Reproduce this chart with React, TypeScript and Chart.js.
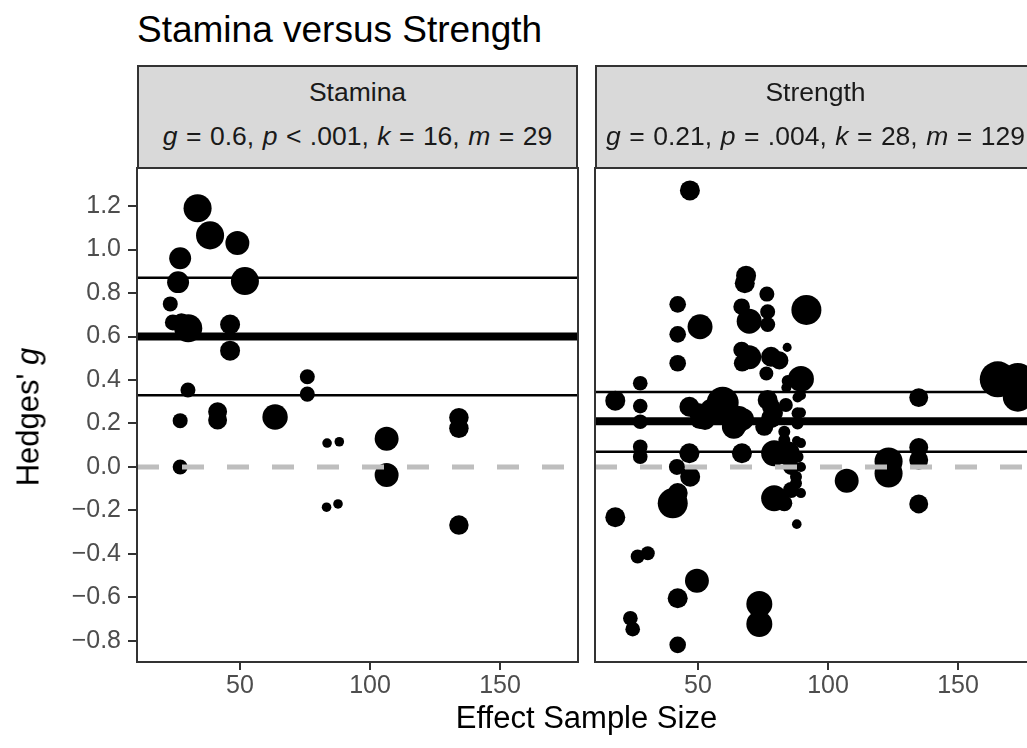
import React, { useEffect, useRef } from 'react';
import { Chart, registerables } from 'chart.js';

Chart.register(...registerables);

const FONT = '"Liberation Sans", Arial, Helvetica, sans-serif';

// ---------- data ----------
const plotTitle = 'Stamina versus Strength';
const xAxisTitle = 'Effect Sample Size';
const panelNames = ['Stamina', 'Strength'];
const statG = ['0.6', '0.21'];
const statP = ['< .001', '= .004'];
const statK = [16, 28];
const statM = [29, 129];
const estimate = [0.6, 0.21];
const ciLower = [0.33, 0.07];
const ciUpper = [0.87, 0.345];
const nullValue = 0;

const xTicks = [50, 100, 150];
const yTicks = [-0.8, -0.6, -0.4, -0.2, 0, 0.2, 0.4, 0.6, 0.8, 1.0, 1.2];
const xRange = [10.4, 180];
const yRange = [-0.897, 1.375];

// Stamina panel: effect sample size, Hedges' g, weight
const staminaN = [33.7, 38.5, 49, 27, 51.9, 26.2, 23.2, 24.2, 27.5, 30.1, 46.2, 46.2, 30, 27, 41.4, 41.4, 63.5, 75.9, 75.9, 83.5, 88.2, 27, 83.3, 87.7, 106.4, 106.4, 134.2, 134.2, 134.2];
const staminaG = [1.19, 1.065, 1.03, 0.96, 0.855, 0.85, 0.75, 0.665, 0.665, 0.638, 0.655, 0.535, 0.354, 0.213, 0.254, 0.216, 0.23, 0.415, 0.335, 0.11, 0.116, 0.0, -0.185, -0.17, 0.13, -0.037, 0.227, 0.178, -0.267];
const staminaW = [77, 77, 56, 47, 77, 47, 22, 25, 32, 77, 39, 39, 22, 22, 35, 35, 63, 22, 22, 9, 9, 22, 9, 9, 56, 56, 37, 37, 37];

// Strength panel
const strengthN = [46.9, 68.5, 68.0, 76.5, 66.8, 69.7, 76.8, 76.8, 91.7, 42.2, 42.2, 50.8, 42.2, 66.8, 69.7, 67.0, 78.1, 81.3, 84.3, 76.3, 89.6, 84.5, 84.0, 27.8, 18.2, 27.8, 27.8, 27.8, 27.8, 46.7, 50.5, 59.5, 55.0, 62.7, 64.6, 67.3, 52.7, 61.4, 76.8, 78.1, 78.1, 75.5, 88.3, 88.3, 88.3, 83.8, 79.2, 83.2, 83.2, 88.0, 66.9, 79.3, 84.5, 88.3, 85.8, 87.7, 87.7, 85.8, 79.3, 83.2, 88.0, 46.7, 41.9, 47.0, 42.2, 40.3, 18.2, 26.8, 30.7, 49.6, 42.2, 73.6, 73.6, 24.0, 24.9, 42.2, 134.9, 165.3, 173.0, 173.0, 134.9, 134.9, 134.9, 123.3, 123.3, 107.2, 89.6, 89.6, 89.6, 89.6, 89.6, 50.8, 63.8, 65.8];
const strengthG = [1.272, 0.88, 0.845, 0.795, 0.737, 0.67, 0.714, 0.655, 0.722, 0.748, 0.61, 0.645, 0.477, 0.538, 0.505, 0.477, 0.507, 0.49, 0.55, 0.43, 0.405, 0.395, 0.365, 0.385, 0.305, 0.28, 0.208, 0.093, 0.047, 0.277, 0.247, 0.295, 0.262, 0.216, 0.215, 0.22, 0.216, 0.277, 0.308, 0.277, 0.224, 0.185, 0.32, 0.247, 0.2, 0.285, 0.248, 0.162, 0.124, 0.12, 0.063, 0.063, 0.063, 0.047, 0.0, -0.045, -0.075, -0.106, -0.144, -0.167, -0.263, 0.063, 0.0, -0.045, -0.12, -0.167, -0.231, -0.412, -0.397, -0.523, -0.604, -0.63, -0.722, -0.696, -0.746, -0.818, 0.319, 0.403, 0.40, 0.323, 0.09, 0.032, -0.17, 0.025, -0.03, -0.063, 0.33, 0.25, 0.11, 0.0, -0.12, 0.22, 0.185, 0.23];
const strengthW = [39, 39, 39, 22, 27, 61, 22, 22, 88, 27, 27, 61, 27, 27, 56, 27, 39, 32, 8, 19, 66, 14, 10, 21, 39, 21, 21, 21, 21, 39, 39, 100, 47, 39, 77, 47, 39, 32, 39, 32, 39, 32, 10, 14, 14, 19, 32, 14, 14, 9, 39, 66, 56, 14, 25, 14, 14, 25, 66, 25, 9, 39, 25, 39, 39, 88, 39, 19, 19, 56, 39, 66, 66, 21, 21, 27, 35, 127, 113, 88, 35, 35, 35, 77, 77, 56, 10, 10, 10, 10, 10, 39, 56, 47];

const panelN = [staminaN, strengthN];
const panelG = [staminaG, strengthG];
const panelW = [staminaW, strengthW];

// ---------- layout ----------
const PANEL_LEFT = [137, 595];
const PANEL_WIDTH = 441;
const PANEL_TOP = 168;
const STRIP_TOP = 65;
const CANVAS_TOP = 160;
const CANVAS_H = 588;
const X_AXIS_H = 86;

const radiusOf = (w: number) => 1.6 * Math.sqrt(w);
const fmtY = (v: number) => (v < 0 ? '\u2212' + Math.abs(v).toFixed(1) : v.toFixed(1));

const panelBorder = {
  id: 'panelBorder',
  afterDraw(chart: any) {
    const { ctx, chartArea: a } = chart;
    ctx.save();
    ctx.strokeStyle = '#333333';
    ctx.lineWidth = 2;
    ctx.strokeRect(a.left, a.top, a.right - a.left, a.bottom - a.top);
    ctx.restore();
  },
};

function hLine(y: number) {
  return [
    { x: xRange[0], y },
    { x: xRange[1], y },
  ];
}

function makeConfig(i: number): any {
  const showY = i === 0;
  const pts = panelN[i].map((n, k) => ({ x: n, y: panelG[i][k] }));
  return {
    type: 'scatter',
    data: {
      datasets: [
        {
          data: hLine(nullValue),
          showLine: true,
          pointRadius: 0,
          borderColor: '#bebebe',
          borderWidth: 5,
          borderDash: [22, 23],
          borderCapStyle: 'butt',
          order: 0,
        },
        {
          data: hLine(estimate[i]),
          showLine: true,
          pointRadius: 0,
          borderColor: '#000000',
          borderWidth: 8,
          order: 1,
        },
        {
          data: hLine(ciUpper[i]),
          showLine: true,
          pointRadius: 0,
          borderColor: '#000000',
          borderWidth: 2.5,
          order: 1,
        },
        {
          data: hLine(ciLower[i]),
          showLine: true,
          pointRadius: 0,
          borderColor: '#000000',
          borderWidth: 2.5,
          order: 1,
        },
        {
          data: pts,
          pointRadius: panelW[i].map(radiusOf),
          pointHoverRadius: panelW[i].map(radiusOf),
          pointBackgroundColor: '#000000',
          pointBorderWidth: 0,
          borderWidth: 0,
          order: 2,
        },
      ],
    },
    options: {
      responsive: false,
      animation: false,
      events: [],
      layout: {
        autoPadding: false,
        padding: { top: PANEL_TOP - CANVAS_TOP, right: showY ? 12 : 10, left: showY ? 0 : 10, bottom: 0 },
      },
      plugins: { legend: { display: false }, tooltip: { enabled: false } },
      scales: {
        x: {
          type: 'linear',
          min: xRange[0],
          max: xRange[1],
          afterBuildTicks: (s: any) => {
            s.ticks = xTicks.map((v) => ({ value: v }));
          },
          afterFit: (s: any) => {
            s.height = X_AXIS_H;
            s.paddingLeft = 0;
            s.paddingRight = 0;
            s.paddingTop = 0;
            s.paddingBottom = 0;
          },
          border: { display: false },
          grid: { drawOnChartArea: false, drawTicks: true, tickLength: 8, color: '#333333', lineWidth: 2 },
          ticks: {
            font: { family: FONT, size: 25 },
            color: '#4d4d4d',
            padding: 1,
            maxRotation: 0,
            autoSkip: false,
            callback: (v: number) => String(v),
          },
        },
        y: {
          type: 'linear',
          display: showY,
          min: yRange[0],
          max: yRange[1],
          afterBuildTicks: (s: any) => {
            s.ticks = yTicks.map((v) => ({ value: v }));
          },
          afterFit: (s: any) => {
            s.width = showY ? PANEL_LEFT[0] : 0;
            s.paddingTop = 0;
            s.paddingBottom = 0;
            s.paddingLeft = 0;
            s.paddingRight = 0;
          },
          border: { display: false },
          grid: { drawOnChartArea: false, drawTicks: true, tickLength: 9, color: '#333333', lineWidth: 2 },
          ticks: {
            font: { family: FONT, size: 25 },
            color: '#4d4d4d',
            padding: 7,
            autoSkip: false,
            callback: (v: number) => fmtY(v),
          },
        },
      },
    },
    plugins: [panelBorder],
  };
}

function Panel({ i }: { i: number }) {
  const ref = useRef<HTMLCanvasElement | null>(null);
  useEffect(() => {
    if (!ref.current) return;
    const chart = new Chart(ref.current, makeConfig(i));
    return () => chart.destroy();
  }, [i]);
  const left = i === 0 ? 0 : PANEL_LEFT[1] - 10;
  const width = i === 0 ? PANEL_LEFT[0] + PANEL_WIDTH + 12 : PANEL_WIDTH + 20;
  return (
    <canvas
      ref={ref}
      width={width}
      height={CANVAS_H}
      style={{ position: 'absolute', left, top: CANVAS_TOP, width, height: CANVAS_H }}
    />
  );
}

function Strip({ i }: { i: number }) {
  const L = PANEL_LEFT[i];
  const txt: React.CSSProperties = {
    position: 'absolute',
    left: L,
    width: PANEL_WIDTH,
    textAlign: 'center',
    fontSize: 26.5,
    lineHeight: '26.5px',
    color: '#1a1a1a',
    whiteSpace: 'nowrap',
  };
  return (
    <>
      <div
        style={{
          position: 'absolute',
          left: L,
          top: STRIP_TOP,
          width: PANEL_WIDTH,
          height: PANEL_TOP - STRIP_TOP + 1,
          background: '#d9d9d9',
          border: '2px solid #333333',
          boxSizing: 'border-box',
        }}
      />
      <div style={{ ...txt, top: 79 }}>{panelNames[i]}</div>
      <div style={{ ...txt, top: 123, wordSpacing: '1.1px' }}>
        <i>g</i> = {statG[i]}, <i>p</i> {statP[i]}, <i>k</i> = {statK[i]}, <i>m</i> = {statM[i]}
      </div>
    </>
  );
}

export default function App() {
  return (
    <div
      style={{
        position: 'absolute',
        left: 0,
        top: 0,
        width: 1027,
        height: 748,
        overflow: 'hidden',
        background: '#ffffff',
        fontFamily: FONT,
      }}
    >
      <Panel i={0} />
      <Panel i={1} />
      <Strip i={0} />
      <Strip i={1} />
      <div
        style={{
          position: 'absolute',
          left: 137,
          top: 11,
          fontSize: 37,
          lineHeight: '37px',
          color: '#000000',
          whiteSpace: 'nowrap',
        }}
      >
        {plotTitle}
      </div>
      <div
        style={{
          position: 'absolute',
          left: PANEL_LEFT[0],
          width: PANEL_LEFT[1] + PANEL_WIDTH - PANEL_LEFT[0],
          top: 702,
          textAlign: 'center',
          fontSize: 31,
          lineHeight: '31px',
          color: '#000000',
          whiteSpace: 'nowrap',
        }}
      >
        {xAxisTitle}
      </div>
      <div
        style={{
          position: 'absolute',
          left: 28,
          top: 417,
          width: 300,
          textAlign: 'center',
          fontSize: 31,
          lineHeight: '31px',
          color: '#000000',
          whiteSpace: 'nowrap',
          transform: 'translate(-50%, -50%) rotate(-90deg)',
        }}
      >
        Hedges' <i>g</i>
      </div>
    </div>
  );
}
